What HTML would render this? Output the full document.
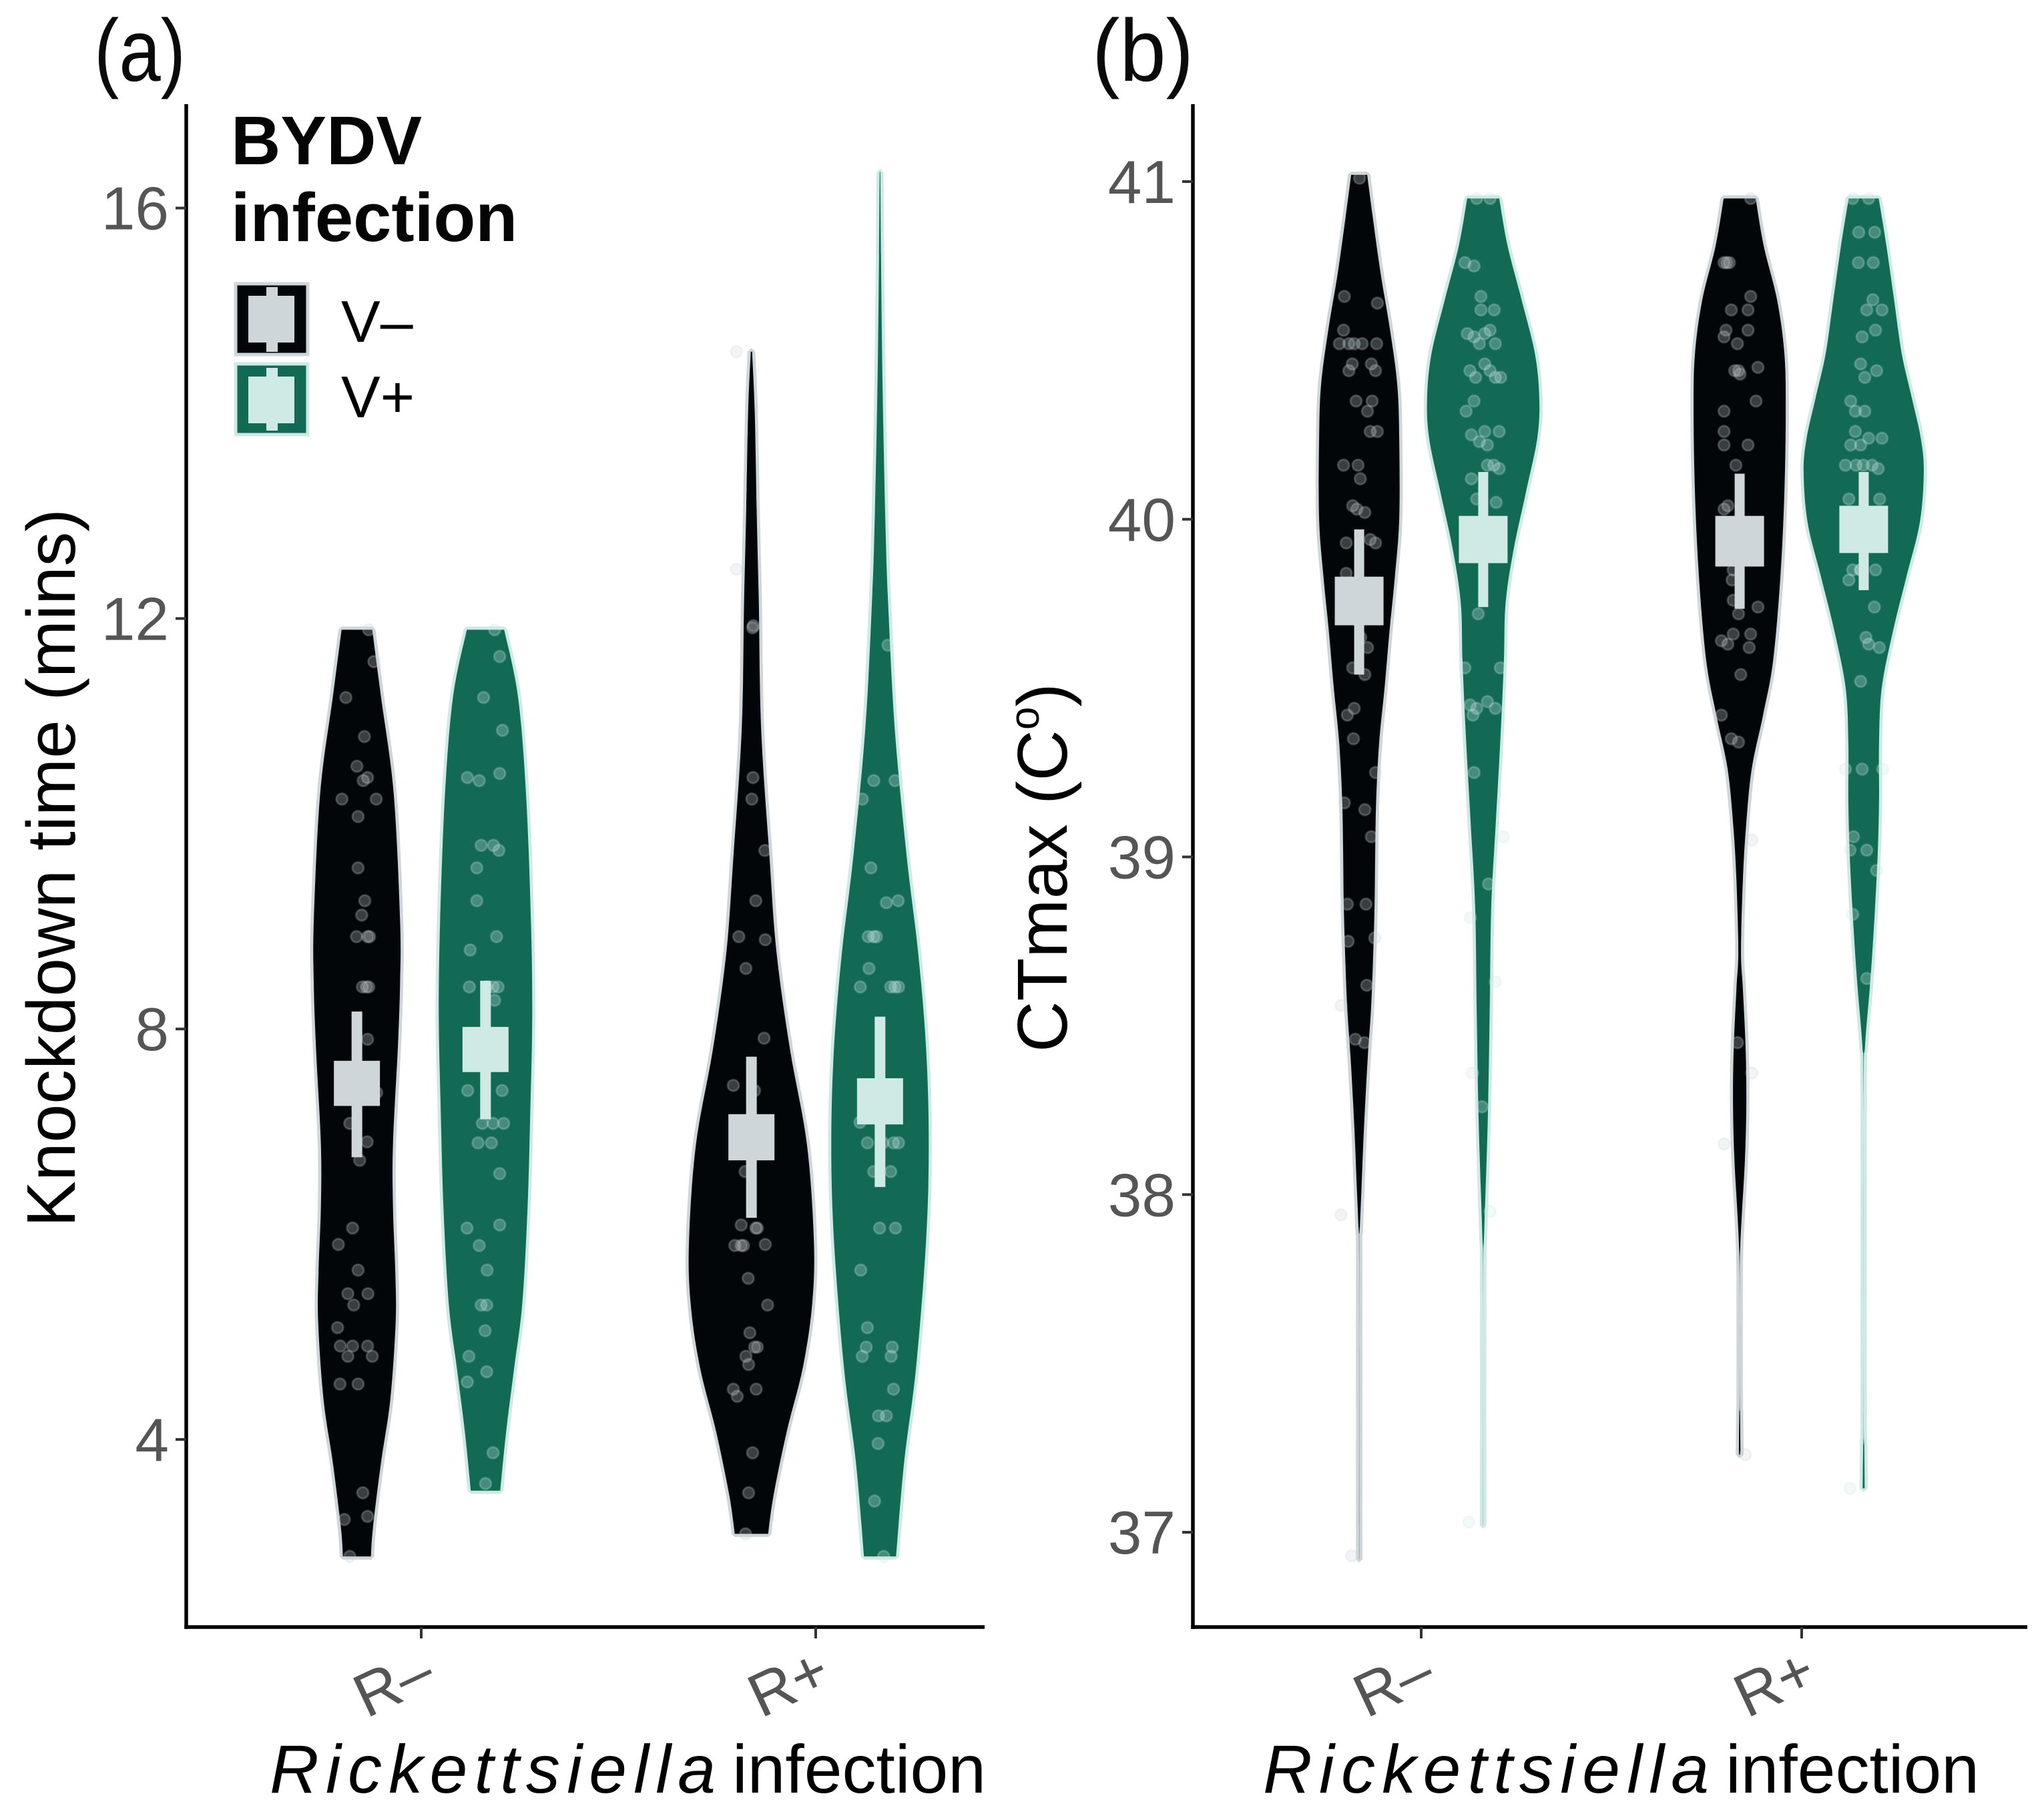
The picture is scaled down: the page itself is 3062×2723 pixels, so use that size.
<!DOCTYPE html>
<html>
<head>
<meta charset="utf-8">
<title>Violin plots of knockdown time and CTmax</title>
<style>
html,body{margin:0;padding:0;background:#fff;}
svg{display:block;font-family:"Liberation Sans",sans-serif;}
</style>
</head>
<body>
<svg id="chart" xmlns="http://www.w3.org/2000/svg" width="3062" height="2723" viewBox="0 0 3062 2723">
  <rect width="3062" height="2723" fill="#fff"/>
  <g id="panelA"></g>
  <g id="panelB"></g>

  <text x="141" y="121" font-size="132" textLength="137" lengthAdjust="spacingAndGlyphs" fill="#0a0a0a">(a)</text>
  <text x="1636" y="121" font-size="132" textLength="152" lengthAdjust="spacingAndGlyphs" fill="#0a0a0a">(b)</text>

  <text transform="translate(112,1838) rotate(-90)" font-size="103" textLength="1076" lengthAdjust="spacingAndGlyphs" fill="#000">Knockdown time (mins)</text>
  <text transform="translate(1598,1576) rotate(-90)" font-size="106" fill="#000">CTmax (C<tspan font-size="62" dy="-42">o</tspan><tspan dy="42">)</tspan></text>

  <text x="404" y="2685" font-size="102" font-style="italic" textLength="668" fill="#000">Rickettsiella</text>
  <text x="1097" y="2685" font-size="102" textLength="380" lengthAdjust="spacingAndGlyphs" fill="#000">infection</text>
  <text x="1892" y="2685" font-size="102" font-style="italic" textLength="668" fill="#000">Rickettsiella</text>
  <text x="2585" y="2685" font-size="102" textLength="380" lengthAdjust="spacingAndGlyphs" fill="#000">infection</text>

  <g>
    <text x="346" y="246" font-size="103" font-weight="bold" fill="#050505">BYDV</text>
    <text x="346" y="361" font-size="103" font-weight="bold" fill="#050505">infection</text>

    <g>
      <rect x="353" y="425" width="108" height="106" fill="#020609" stroke="#ced6da" stroke-width="5"/>
      <rect x="372" y="443" width="69" height="70" fill="#ced6da"/>
      <rect x="399" y="430" width="17" height="97" fill="#ced6da"/>
      <text x="511" y="512" font-size="88" fill="#000">V–</text>
    </g>
    <g>
      <rect x="353" y="545" width="108" height="106" fill="#126a55" stroke="#cfeae4" stroke-width="5"/>
      <rect x="372" y="564" width="69" height="70" fill="#cfeae4"/>
      <rect x="399" y="551" width="17" height="94" fill="#cfeae4"/>
      <text x="511" y="625" font-size="88" fill="#000">V+</text>
    </g>
  </g>
</svg>

<script>
/* ---------- shared categories ---------- */
const categories = ['R–', 'R+'];
const bydvLevels = ['V–', 'V+'];
const yTicksA = [4, 8, 12, 16];
const yTicksB = [37, 38, 39, 40, 41];

/* ---------- panel (a): knockdown time ---------- */
const aRmVmGrid = [11.89,11.24,10.30,9.06,8.44,7.83,6.88,6.26,5.63,5.14,4.39,3.77,3.14,2.86];
const aRmVmDens = [.23,.36,.55,.646,.646,.614,.54,.54,.575,.58,.50,.36,.24,.21];
const aRmVpGrid = [11.89,11.24,10.30,9.06,8.12,7.19,6.26,5.32,4.70,4.08,3.50];
const aRmVpDens = [.28,.486,.606,.68,.70,.67,.63,.55,.43,.31,.22];
const aRpVmGrid = [14.6,14,13,12.17,10.93,9.68,8.75,7.81,6.88,5.94,5.32,4.7,4.08,3.45,3.08];
const aRpVmDens = [.01,.05,.08,.11,.145,.27,.375,.575,.83,.935,.91,.77,.53,.33,.25];
const aRpVpGrid = [16.35,15.2,14.2,12.95,12.17,10.93,9.68,8.75,7.81,6.88,5.94,4.7,3.77,2.86];
const aRpVpDens = [.005,.02,.04,.08,.12,.22,.40,.57,.69,.73,.69,.54,.36,.24];

const aBoxTop = [7.69, 8.02, 7.17, 7.52];
const aBoxBottom = [7.25, 7.58, 6.72, 7.07];
const aWhiskerTop = [8.17, 8.47, 7.73, 8.12];
const aWhiskerBottom = [6.75, 7.12, 6.16, 6.46];

const aRmVmPtY = [11.89,11.58,11.23,10.85,10.56,10.45,10.42,10.24,10.24,10.07,9.57,9.25,9.11,8.90,8.90,8.90,8.41,8.41,8.41,7.90,7.38,7.08,6.90,6.72,6.06,5.90,5.65,5.42,5.42,5.31,5.09,4.91,4.91,4.91,4.81,4.81,4.54,4.54,3.48,3.25,3.22,2.86];
const aRmVmPtJ = [30,43,-28,19,0,27,16,-38,49,3,3,20,12,-1,27,32,14,24,30,27,50,-18,26,7,-11,-47,3,-23,28,-8,-49,-42,-11,27,-23,39,-43,3,15,27,-32,-18];
const aRmVpPtY = [11.89,11.63,11.23,10.91,10.45,10.42,10.49,9.79,9.79,9.74,9.57,9.25,8.90,8.77,8.41,8.41,8.41,8.41,8.28,7.40,7.40,7.08,7.08,7.08,6.89,6.89,6.59,6.06,6.09,5.89,5.65,5.31,5.31,5.06,4.81,4.66,4.56,3.87,3.57];
const aRmVpPtJ = [23,36,-5,43,-46,-16,36,-11,20,34,-22,-22,28,-39,-41,3,19,32,23,-45,42,-8,19,46,-19,15,36,-47,36,-16,4,-11,3,-1,-42,3,-46,19,0];
const aRpVmPtY = [14.6,12.48,11.93,11.91,10.45,10.24,9.74,9.25,8.90,8.87,8.59,7.91,7.45,7.40,6.61,6.09,6.06,6.06,5.89,5.89,5.89,5.90,5.57,5.31,5.04,4.90,4.90,4.81,4.73,4.49,4.42,4.49,3.87,3.48,3.08];
const aRpVmPtJ = [-38,-38,5,3,4,1,34,11,-32,35,-14,32,-46,8,-16,-26,11,15,-42,-26,-20,35,-8,41,-4,8,15,-14,-7,-46,-36,12,3,-7,-15];
const aRpVpPtY = [11.74,10.42,10.42,10.24,9.57,9.23,9.25,8.90,8.90,8.90,8.59,8.41,8.41,8.41,8.41,7.09,6.89,6.89,6.89,6.89,6.61,6.61,6.06,6.06,5.65,5.09,4.90,4.90,4.81,4.81,4.49,4.23,4.23,3.96,3.40,2.86];
const aRpVpPtJ = [20,-16,38,-45,-23,16,46,-30,-16,-9,-28,-50,27,38,47,-51,-32,7,34,47,-16,27,-1,39,-49,-32,-35,31,-45,28,34,-4,16,-5,-14,9];

/* ---------- panel (b): CTmax ---------- */
const bRmVmGrid = [41.02,40.90,40.73,40.57,40.40,40.24,40.0,39.83,39.67,39.5,39.34,39.17,39.01,38.85,38.68,38.54,38.41,38.21,38.02,37.89,37.82,36.92];
const bRmVmDens = [.12,.20,.32,.455,.57,.60,.60,.535,.455,.38,.30,.255,.24,.23,.205,.175,.13,.075,.035,.008,.001,.001];
const bRmVpGrid = [40.95,40.81,40.65,40.49,40.36,40.24,40.08,39.91,39.75,39.58,39.34,39.09,38.85,38.54,38.21,37.89,37.75,37.02];
const bRmVpDens = [.24,.365,.575,.775,.84,.81,.64,.455,.335,.31,.255,.185,.12,.097,.067,.015,.001,.001];
const bRpVmGrid = [40.95,40.81,40.65,40.49,40.32,40.08,39.83,39.58,39.42,39.26,39.09,38.93,38.72,38.61,38.44,38.28,38.11,37.95,37.85,37.75,37.4,37.35,37.23];
const bRpVmDens = [.24,.36,.56,.67,.69,.67,.61,.50,.35,.18,.095,.048,.02,.048,.088,.10,.08,.035,.01,.001,.001,.006,.012];
const bRpVpGrid = [40.95,40.81,40.65,40.49,40.36,40.24,40.14,39.99,39.83,39.67,39.5,39.34,39.17,39.01,38.85,38.72,38.61,38.44,38.3,37.35,37.27,37.13];
const bRpVpDens = [.225,.34,.455,.57,.72,.855,.90,.84,.64,.44,.27,.23,.23,.21,.17,.13,.09,.02,.001,.001,.008,.015];

const bBoxTop = [39.83, 40.01, 40.01, 40.04];
const bBoxBottom = [39.686, 39.87, 39.86, 39.90];
const bWhiskerTop = [39.97, 40.14, 40.135, 40.14];
const bWhiskerBottom = [39.54, 39.74, 39.735, 39.79];

const bRmVmPtY = [41.01,40.66,40.64,40.56,40.52,40.52,40.52,40.52,40.52,40.46,40.44,40.46,40.44,40.35,40.35,40.32,40.26,40.26,40.16,40.16,40.12,40.04,40.03,40.02,39.93,39.94,39.93,39.84,39.65,39.62,39.56,39.54,39.44,39.42,39.35,39.25,39.16,39.14,39.06,38.86,38.86,38.75,38.76,38.62,38.56,38.46,38.45,37.94,36.93];
const bRmVmPtJ = [1,-39,48,-41,-52,-27,-13,8,46,-18,-27,32,43,-8,34,22,29,48,-41,-3,3,-17,-6,15,-34,29,43,-34,4,22,-17,15,-13,-31,-15,43,-39,15,32,-31,18,-29,41,20,-48,-10,14,-48,-20];
const bRmVpPtY = [40.95,40.95,40.76,40.75,40.66,40.62,40.62,40.55,40.54,40.56,40.55,40.52,40.52,40.44,40.42,40.46,40.44,40.42,40.42,40.35,40.32,40.25,40.26,40.26,40.23,40.22,40.16,40.16,40.15,40.12,40.06,40.05,39.72,39.56,39.56,39.45,39.44,39.46,39.44,39.42,39.25,39.06,38.92,38.82,38.63,38.36,38.26,37.95,37.03];
const bRmVpPtJ = [-17,18,-48,-24,-6,-6,29,-42,-24,18,4,-10,32,-35,-20,4,18,32,46,-24,-45,-31,4,42,-10,11,11,28,42,-31,-17,34,-13,-48,45,-34,-17,11,32,-27,-24,53,14,-34,32,-28,-3,18,-38];
const bRpVmPtY = [40.95,40.76,40.76,40.76,40.66,40.62,40.62,40.56,40.54,40.56,40.52,40.44,40.44,40.43,40.45,40.35,40.32,40.26,40.22,40.22,40.16,40.04,40.03,39.85,39.82,39.76,39.74,39.72,39.64,39.63,39.66,39.66,39.62,39.54,39.42,39.35,39.34,39.05,38.45,38.36,38.15,37.23];
const bRpVmPtJ = [29,-34,-41,-27,29,-22,22,-36,-41,22,-6,-13,-3,1,48,43,-41,-41,-41,22,-10,-31,-41,-17,-20,-17,48,-3,-48,-31,-17,29,25,3,-48,-22,-3,32,-6,32,-41,15];
const bRpVpPtY = [40.95,40.95,40.85,40.85,40.76,40.76,40.65,40.62,40.62,40.56,40.54,40.46,40.42,40.44,40.35,40.32,40.32,40.26,40.22,40.22,40.24,40.24,40.16,40.16,40.16,40.16,40.15,40.06,40.06,39.85,39.85,39.85,39.82,39.85,39.74,39.65,39.63,39.62,39.52,39.26,39.26,39.26,39.06,39.02,39.02,38.96,38.83,38.64,37.13];
const bRpVpPtJ = [-29,13,-13,29,-14,25,24,8,48,31,-4,-8,3,34,-34,-22,3,-22,-34,-8,13,48,-48,-20,-1,22,38,-39,42,-29,-8,31,-39,-8,28,6,13,41,-8,-4,-48,50,-27,8,-36,34,-29,8,-36];

/* ---------- axis functions ---------- */
const SVGNS = 'http://www.w3.org/2000/svg';
function yA(v) { return 2156 + (4 - v) * 153.7; }
function xA(c) { return 631 + c * 591; }
function yB(v) { return 272 + (41 - v) * 505.75; }
function xB(c) { return 2129 + c * 570; }
function widthScale(d) { return d * 100; }
const dodgeUnits = 0.163;

const groupFill = ['#020609', '#126a55'];
const groupLight = ['#ced6da', '#cfeae4'];

function make(tag, parent, attrs) {
  const el = document.createElementNS(SVGNS, tag);
  for (const k in attrs) el.setAttribute(k, attrs[k]);
  parent.appendChild(el);
  return el;
}

function smoothSide(pts) {
  let d = '';
  for (let i = 0; i < pts.length - 1; i++) {
    const p0 = pts[Math.max(0, i - 1)], p1 = pts[i], p2 = pts[i + 1], p3 = pts[Math.min(pts.length - 1, i + 2)];
    const c1x = p1[0] + (p2[0] - p0[0]) / 6, c1y = p1[1] + (p2[1] - p0[1]) / 6;
    const c2x = p2[0] - (p3[0] - p1[0]) / 6, c2y = p2[1] - (p3[1] - p1[1]) / 6;
    d += ' C' + c1x.toFixed(1) + ' ' + c1y.toFixed(1) + ' ' + c2x.toFixed(1) + ' ' + c2y.toFixed(1) + ' ' + p2[0].toFixed(1) + ' ' + p2[1].toFixed(1);
  }
  return d;
}

function drawPanel(root, xf, yf, yTicks, axis, groups, boxWidth, whiskerWidth) {
  groups.forEach(function (g, i) {
    const cat = Math.floor(i / 2);
    const lvl = i % 2;
    const cx = xf(cat + (lvl === 0 ? -dodgeUnits : dodgeUnits));

    /* violin: light outline underneath, fill on top so tails show as pale lines */
    const right = g.grid.map(function (v, k) { return [cx + widthScale(g.dens[k]), yf(v)]; });
    const left = g.grid.map(function (v, k) { return [cx - widthScale(g.dens[k]), yf(v)]; }).reverse();
    const d = 'M' + left[left.length - 1][0].toFixed(1) + ' ' + left[left.length - 1][1].toFixed(1) +
      ' L' + right[0][0].toFixed(1) + ' ' + right[0][1].toFixed(1) + smoothSide(right) +
      ' L' + left[0][0].toFixed(1) + ' ' + left[0][1].toFixed(1) + smoothSide(left) + ' Z';
    const outline = make('path', root, { d: d, fill: 'none', stroke: groupLight[lvl], 'stroke-width': 9.5, 'stroke-linejoin': 'bevel' });
    
    
    const violin = make('path', root, { d: d, fill: groupFill[lvl] });
    
    

    /* jittered raw points */
    g.ptY.forEach(function (v, k) {
      const px = cx + (xf(1) - xf(0)) * (g.ptJ[k] || 0) / 1000;
      const dot = make('circle', root, { cx: px.toFixed(1), cy: yf(v).toFixed(1), r: 8.5, fill: groupLight[lvl], 'fill-opacity': 0.27, stroke: groupLight[lvl], 'stroke-opacity': 0.24, 'stroke-width': 3 });
      
      
    });

    /* mean cross: whisker + box */
    const whisker = make('rect', root, { x: cx - whiskerWidth / 2, y: yf(g.wTop), width: whiskerWidth, height: yf(g.wBottom) - yf(g.wTop), fill: groupLight[lvl] });
    
    
    const box = make('rect', root, { x: cx - boxWidth / 2, y: yf(g.bTop), width: boxWidth, height: yf(g.bBottom) - yf(g.bTop), fill: groupLight[lvl] });
    
    
  });

  /* axis lines */
  const yLine = make('line', root, { x1: axis.left, x2: axis.left, y1: axis.top, y2: axis.bottom + 2.75, stroke: '#000', 'stroke-width': 5.5 });
  
  
  const xLine = make('line', root, { x1: axis.left - 2.75, x2: axis.right, y1: axis.bottom, y2: axis.bottom, stroke: '#000', 'stroke-width': 5.5 });
  
  

  /* y ticks */
  yTicks.forEach(function (t) {
    const tick = make('line', root, { x1: axis.left - 16, x2: axis.left, y1: yf(t), y2: yf(t), stroke: '#333', 'stroke-width': 4 });
    
    
    const label = make('text', root, { x: axis.left - 26, y: yf(t) + 32, 'text-anchor': 'end', 'font-size': 91, fill: '#555' });
    
    
    label.textContent = String(t);
  });

  /* x ticks */
  categories.forEach(function (c, i) {
    const tx = xf(i);
    const tick = make('line', root, { x1: tx, x2: tx, y1: axis.bottom, y2: axis.bottom + 17, stroke: '#333', 'stroke-width': 4 });
    
    
    const label = make('text', root, { transform: 'translate(' + (tx - 82) + ',2574) rotate(-25)', 'font-size': 92, fill: '#555' });
    
    
    label.textContent = c;
  });
}

const groupsA = [
  { grid: aRmVmGrid, dens: aRmVmDens, ptY: aRmVmPtY, ptJ: aRmVmPtJ, bTop: aBoxTop[0], bBottom: aBoxBottom[0], wTop: aWhiskerTop[0], wBottom: aWhiskerBottom[0] },
  { grid: aRmVpGrid, dens: aRmVpDens, ptY: aRmVpPtY, ptJ: aRmVpPtJ, bTop: aBoxTop[1], bBottom: aBoxBottom[1], wTop: aWhiskerTop[1], wBottom: aWhiskerBottom[1] },
  { grid: aRpVmGrid, dens: aRpVmDens, ptY: aRpVmPtY, ptJ: aRpVmPtJ, bTop: aBoxTop[2], bBottom: aBoxBottom[2], wTop: aWhiskerTop[2], wBottom: aWhiskerBottom[2] },
  { grid: aRpVpGrid, dens: aRpVpDens, ptY: aRpVpPtY, ptJ: aRpVpPtJ, bTop: aBoxTop[3], bBottom: aBoxBottom[3], wTop: aWhiskerTop[3], wBottom: aWhiskerBottom[3] }
];
const groupsB = [
  { grid: bRmVmGrid, dens: bRmVmDens, ptY: bRmVmPtY, ptJ: bRmVmPtJ, bTop: bBoxTop[0], bBottom: bBoxBottom[0], wTop: bWhiskerTop[0], wBottom: bWhiskerBottom[0] },
  { grid: bRmVpGrid, dens: bRmVpDens, ptY: bRmVpPtY, ptJ: bRmVpPtJ, bTop: bBoxTop[1], bBottom: bBoxBottom[1], wTop: bWhiskerTop[1], wBottom: bWhiskerBottom[1] },
  { grid: bRpVmGrid, dens: bRpVmDens, ptY: bRpVmPtY, ptJ: bRpVmPtJ, bTop: bBoxTop[2], bBottom: bBoxBottom[2], wTop: bWhiskerTop[2], wBottom: bWhiskerBottom[2] },
  { grid: bRpVpGrid, dens: bRpVpDens, ptY: bRpVpPtY, ptJ: bRpVpPtJ, bTop: bBoxTop[3], bBottom: bBoxBottom[3], wTop: bWhiskerTop[3], wBottom: bWhiskerBottom[3] }
];

drawPanel(document.getElementById('panelA'), xA, yA, yTicksA, { left: 279, right: 1475, top: 156, bottom: 2437 }, groupsA, 69, 16);
drawPanel(document.getElementById('panelB'), xB, yB, yTicksB, { left: 1787, right: 3037, top: 156, bottom: 2437 }, groupsB, 73, 15);
</script>
</body>
</html>
